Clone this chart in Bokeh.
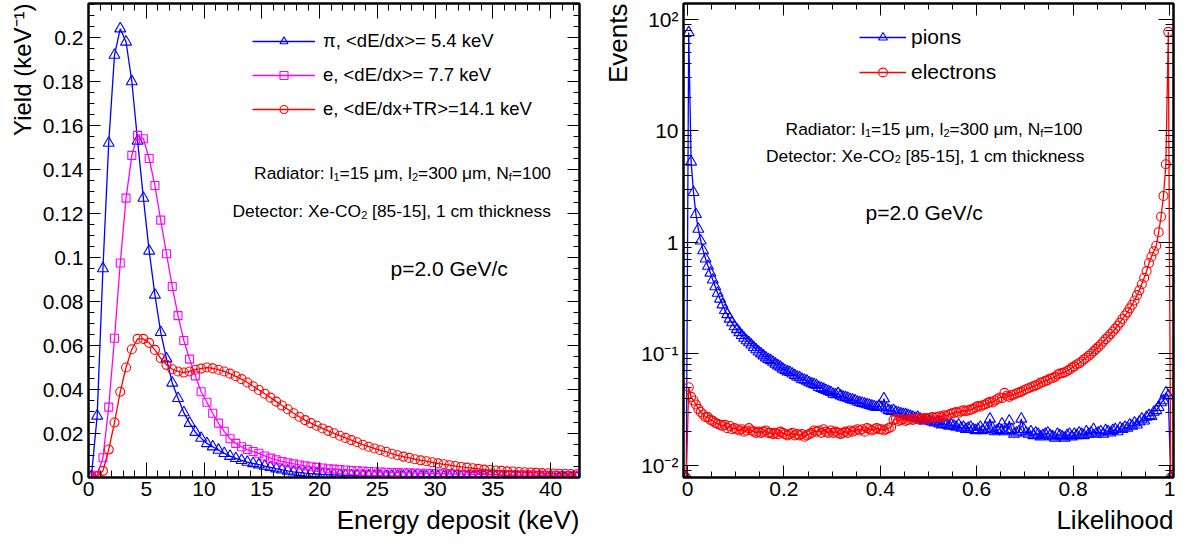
import numpy as np
from bokeh.plotting import figure
from bokeh.layouts import row
from bokeh.models import (LinearAxis, LogAxis, SingleIntervalTicker, FixedTicker,
                          CustomJSTickFormatter, Legend, LegendItem, Label, Range1d, Title)
from bokeh.embed import file_html
from bokeh.resources import INLINE

FONT = "Liberation Sans"
BLUE, MAGENTA, RED = "#0000ff", "#ff00ff", "#ff0000"

# ---------------- data: left panel (energy deposit spectra, 0.5 keV bins) ----------------
energy_bin_width = 0.5
pion_yield = [
    0.0005, 0.028, 0.095, 0.152, 0.192, 0.204, 0.198, 0.180, 0.153, 0.127,
    0.103, 0.083, 0.066, 0.054, 0.043, 0.036, 0.0295, 0.0247, 0.0206, 0.0179,
    0.0155, 0.014, 0.0125, 0.011, 0.0097, 0.0087, 0.0078, 0.007, 0.0064, 0.0058,
    0.0052, 0.0046, 0.004, 0.0035, 0.003, 0.0026, 0.0023, 0.002, 0.0018, 0.0016,
    0.0014, 0.0013, 0.0012, 0.0011, 0.001, 0.0009, 0.0009, 0.0008, 0.0008, 0.0007,
    0.0007, 0.0006, 0.0006, 0.0006, 0.0005, 0.0005, 0.0005, 0.0005, 0.0004, 0.0004,
    0.0004, 0.0004, 0.0004, 0.0003, 0.0003, 0.0003, 0.0003, 0.0003, 0.0003, 0.0003,
    0.0002, 0.0002, 0.0002, 0.0002, 0.0002, 0.0002, 0.0002, 0.0002, 0.0002, 0.0002,
    0.0002, 0.0001, 0.0001, 0.0001, 0.0001]
electron_dedx_yield = [
    0.0003, 0.001, 0.009, 0.032, 0.0633, 0.0975, 0.127, 0.1464, 0.1555, 0.154,
    0.145, 0.1327, 0.117, 0.1017, 0.0868, 0.0736, 0.0623, 0.0538, 0.0462, 0.039,
    0.0342, 0.0292, 0.0247, 0.021, 0.0176, 0.0155, 0.014, 0.0127, 0.0118, 0.011,
    0.0098, 0.0088, 0.008, 0.0073, 0.0067, 0.0062, 0.0057, 0.0053, 0.0049, 0.0046,
    0.0043, 0.004, 0.0038, 0.0036, 0.0034, 0.0032, 0.003, 0.0029, 0.0027, 0.0026,
    0.0025, 0.0024, 0.0023, 0.0022, 0.0021, 0.0021, 0.002, 0.0019, 0.0019, 0.0018,
    0.0017, 0.0017, 0.0016, 0.0016, 0.0015, 0.0015, 0.0014, 0.0014, 0.0014, 0.0013,
    0.0013, 0.0012, 0.0012, 0.0012, 0.0011, 0.0011, 0.0011, 0.001, 0.001, 0.001,
    0.0009, 0.0009, 0.0009, 0.0008, 0.0008]
electron_tr_yield = [
    0.0001, 0.0005, 0.003, 0.0127, 0.025, 0.039, 0.050, 0.0583, 0.063, 0.063,
    0.0612, 0.058, 0.0542, 0.0512, 0.0492, 0.0482, 0.0477, 0.0482, 0.049, 0.0495,
    0.05, 0.0496, 0.049, 0.0482, 0.0472, 0.046, 0.0447, 0.0432, 0.0415, 0.0398,
    0.0381, 0.0363, 0.0345, 0.0327, 0.031, 0.0292, 0.0276, 0.0261, 0.0247, 0.0235,
    0.0223, 0.0212, 0.0201, 0.019, 0.018, 0.017, 0.016, 0.0149, 0.014, 0.0132,
    0.0124, 0.0117, 0.0108, 0.0101, 0.0095, 0.0089, 0.0083, 0.0078, 0.0074, 0.0069,
    0.0064, 0.006, 0.0056, 0.0052, 0.0048, 0.0045, 0.0042, 0.0039, 0.0036, 0.0034,
    0.0032, 0.003, 0.0028, 0.0027, 0.0025, 0.0024, 0.0023, 0.0021, 0.002, 0.0019,
    0.0018, 0.0017, 0.0017, 0.0016, 0.0015]
energy_centers = [energy_bin_width * (i + 0.5) for i in range(len(pion_yield))]

legend_left = ["π, <dE/dx>= 5.4 keV", "e, <dE/dx>= 7.7 keV", "e, <dE/dx+TR>=14.1 keV"]

# ---------------- data: right panel (likelihood, 0.005 bins, incl. empty edge bins) ----------------
likelihood_bin_width = 0.005
pion_events = [0.0] + [
    76, 5.25, 2.8, 1.78, 1.31, 1.03, 0.84, 0.71, 0.61, 0.53,
    0.46, 0.40, 0.35, 0.31, 0.275, 0.245, 0.225, 0.205, 0.19, 0.175,
    0.165, 0.155, 0.146, 0.138, 0.131, 0.126, 0.12, 0.114, 0.109, 0.104,
    0.1, 0.096, 0.092, 0.089, 0.087, 0.084, 0.081, 0.078, 0.076, 0.073,
    0.071, 0.069, 0.068, 0.066, 0.064, 0.062, 0.061, 0.059, 0.058, 0.057,
    0.055, 0.054, 0.053, 0.052, 0.05, 0.049, 0.048, 0.047, 0.046, 0.045,
    0.0435, 0.043, 0.044, 0.042, 0.041, 0.0405, 0.04, 0.039, 0.0385, 0.038,
    0.037, 0.0365, 0.036, 0.0355, 0.035, 0.0345, 0.034, 0.0335, 0.033, 0.034,
    0.033, 0.0395, 0.032, 0.031, 0.0305, 0.031, 0.03, 0.0295, 0.029, 0.0285,
    0.0285, 0.028, 0.0275, 0.027, 0.0265, 0.027, 0.026, 0.0255, 0.025, 0.0255,
    0.025, 0.0245, 0.024, 0.0245, 0.0235, 0.023, 0.0235, 0.023, 0.0225, 0.023,
    0.0225, 0.022, 0.023, 0.0215, 0.022, 0.021, 0.0215, 0.022, 0.021, 0.0205,
    0.021, 0.022, 0.0205, 0.0215, 0.021, 0.026, 0.0215, 0.02, 0.0205, 0.021,
    0.0235, 0.02, 0.0205, 0.025, 0.021, 0.019, 0.0195, 0.02, 0.026, 0.021,
    0.0195, 0.019, 0.02, 0.0185, 0.0195, 0.019, 0.018, 0.0185, 0.019, 0.0195,
    0.0185, 0.018, 0.0175, 0.019, 0.0185, 0.018, 0.0175, 0.0185, 0.019, 0.018,
    0.019, 0.0185, 0.0195, 0.019, 0.0185, 0.02, 0.019, 0.0195, 0.021, 0.019,
    0.0195, 0.02, 0.019, 0.0205, 0.02, 0.0195, 0.0205, 0.021, 0.02, 0.0215,
    0.021, 0.022, 0.0215, 0.023, 0.0225, 0.024, 0.023, 0.0245, 0.026, 0.025,
    0.027, 0.028, 0.0275, 0.03, 0.031, 0.033, 0.0365, 0.038, 0.0445, 0.042] + [0.0]
electron_events = [0.0] + [
    0.05, 0.041, 0.038, 0.035, 0.032, 0.03, 0.0285, 0.027, 0.027, 0.0255,
    0.025, 0.024, 0.0235, 0.023, 0.0225, 0.023, 0.0215, 0.0225, 0.021, 0.0215,
    0.021, 0.0205, 0.021, 0.02, 0.0205, 0.0215, 0.0205, 0.02, 0.0195, 0.02,
    0.0195, 0.02, 0.0205, 0.0195, 0.0195, 0.019, 0.0195, 0.019, 0.02, 0.0195,
    0.019, 0.0185, 0.019, 0.0195, 0.0185, 0.019, 0.0185, 0.019, 0.018, 0.0185,
    0.019, 0.0195, 0.0205, 0.02, 0.0205, 0.0195, 0.021, 0.02, 0.0195, 0.0205,
    0.0195, 0.02, 0.0195, 0.019, 0.0195, 0.02, 0.0195, 0.0205, 0.02, 0.0205,
    0.021, 0.0205, 0.021, 0.02, 0.0215, 0.021, 0.0205, 0.021, 0.0215, 0.021,
    0.021, 0.0205, 0.021, 0.0215, 0.022, 0.0255, 0.026, 0.025, 0.0255, 0.026,
    0.025, 0.0255, 0.026, 0.0255, 0.026, 0.0265, 0.0255, 0.026, 0.0265, 0.026,
    0.0265, 0.027, 0.0265, 0.027, 0.0275, 0.027, 0.028, 0.0275, 0.0285, 0.029,
    0.0295, 0.03, 0.0295, 0.0305, 0.031, 0.0305, 0.031, 0.0315, 0.032, 0.033,
    0.034, 0.0335, 0.0345, 0.035, 0.036, 0.037, 0.0365, 0.038, 0.039, 0.0405,
    0.04, 0.0445, 0.042, 0.041, 0.0425, 0.043, 0.044, 0.045, 0.0455, 0.047,
    0.048, 0.049, 0.05, 0.051, 0.052, 0.053, 0.055, 0.0555, 0.057, 0.058,
    0.06, 0.0605, 0.062, 0.065, 0.0665, 0.067, 0.068, 0.07, 0.072, 0.075,
    0.077, 0.08, 0.082, 0.085, 0.089, 0.092, 0.096, 0.1, 0.105, 0.11,
    0.115, 0.121, 0.128, 0.135, 0.142, 0.15, 0.158, 0.168, 0.178, 0.19,
    0.205, 0.22, 0.235, 0.255, 0.275, 0.3, 0.335, 0.37, 0.42, 0.48,
    0.55, 0.65, 0.74, 0.83, 0.93, 1.23, 1.69, 2.6, 5.0, 77] + [0.0]
likelihood_centers = [likelihood_bin_width * (i - 0.5) for i in range(len(pion_events))]

legend_right = ["pions", "electrons"]

# ---------------- helpers ----------------
ARIAL = {' ': 278, ':': 278, '=': 584, ',': 278, '-': 333, '[': 278, ']': 278, '.': 278, '/': 278,
         'R': 722, 'N': 722, 'D': 722, 'X': 667, 'C': 722, 'O': 778, 'G': 778, 'V': 667,
         'a': 556, 'd': 556, 'i': 222, 't': 278, 'o': 556, 'r': 333, 'l': 222, 'm': 833,
         'f': 278, 'e': 556, 'c': 500, 'h': 556, 'k': 500, 'n': 556, 's': 500, 'p': 556,
         'μ': 576}


def text_w(s, fs):
    return sum(ARIAL.get(ch, 556) for ch in s) * fs / 1000.0


def rich_text(p, pieces, anchor_px, base_px, fs, to_data, align="right"):
    sub_scale = 0.63
    widths = [text_w(t, fs * (sub_scale if sub else 1)) for t, sub in pieces]
    x = anchor_px - sum(widths) if align == "right" else anchor_px
    for (t, sub), w in zip(pieces, widths):
        f = fs * (sub_scale if sub else 1)
        lead = len(t) - len(t.lstrip(" "))
        xd = x + lead * 278 * f / 1000.0
        yd = base_px + (0.22 * fs if sub else 0)
        dx, dy = to_data(xd, yd)
        p.add_layout(Label(x=dx, y=dy, text=t.strip(" "), text_font=FONT,
                           text_font_size=f"{f:.1f}px", text_align="left",
                           text_baseline="alphabetic", text_color="black"))
        x += w


num_fmt = CustomJSTickFormatter(code="const v = Math.round(tick*1e6)/1e6; return v.toString();")
blank_fmt = CustomJSTickFormatter(code="return '';")
log_fmt = CustomJSTickFormatter(code="""
const e = Math.round(Math.log10(tick));
const m = {"-2": "10⁻²", "-1": "10⁻¹", "0": "1", "1": "10", "2": "10²"};
return m[String(e)] || "";
""")


def style_axis(ax, major, minor, labels=True):
    ax.major_tick_in = major
    ax.major_tick_out = 0
    ax.minor_tick_in = minor
    ax.minor_tick_out = 0
    ax.axis_line_width = 2
    ax.axis_line_color = "black"
    ax.major_tick_line_color = "black"
    ax.minor_tick_line_color = "black"
    ax.major_tick_line_width = 1
    ax.minor_tick_line_width = 1
    if labels:
        ax.major_label_text_font = FONT
        ax.major_label_text_font_size = "21px"
        ax.major_label_text_color = "black"
    else:
        ax.formatter = blank_fmt
        ax.major_label_text_font_size = "0px"
        ax.major_label_standoff = 0


def axis_title(p, text, side, size, standoff):
    t = Title(text=text, align="right", text_font=FONT, text_font_size=size,
              text_font_style="normal", text_color="black", standoff=standoff,
              offset=0)
    p.add_layout(t, side)


def base_fig(**kw):
    p = figure(output_backend="svg", toolbar_location=None, min_border_top=3,
               min_border_bottom=0, background_fill_color="white",
               border_fill_color="white", **kw)
    p.xgrid.visible = False
    p.ygrid.visible = False
    p.outline_line_color = "black"
    p.outline_line_width = 2
    return p


FRAME_H = 474

# ---------------- left panel ----------------
p1 = base_fig(frame_width=491, frame_height=FRAME_H, x_range=Range1d(0, 42.5),
              y_range=Range1d(0, FRAME_H / 2200.0), min_border_left=88, min_border_right=11)
xt1 = SingleIntervalTicker(interval=5, num_minor_ticks=5)
yt1 = SingleIntervalTicker(interval=0.02, num_minor_ticks=4)
p1.xaxis.ticker = xt1
p1.yaxis.ticker = yt1
p1.xaxis.formatter = num_fmt
p1.yaxis.formatter = num_fmt
for ax in p1.xaxis:
    style_axis(ax, 15, 7)
    ax.major_label_standoff = 4
for ax in p1.yaxis:
    style_axis(ax, 12, 6)
    ax.major_label_standoff = 5
axis_title(p1, "Energy deposit (keV)", "below", "26px", 8)
axis_title(p1, "Yield (keV⁻¹)", "left", "24px", 7)
top1 = LinearAxis(ticker=xt1)
style_axis(top1, 15, 7, labels=False)
p1.add_layout(top1, "above")
right1 = LinearAxis(ticker=yt1)
style_axis(right1, 12, 6, labels=False)
p1.add_layout(right1, "right")

items1 = []
for yv, col, marker, size, lab in [(pion_yield, BLUE, "triangle", 11, legend_left[0]),
                                   (electron_dedx_yield, MAGENTA, "square", 8, legend_left[1]),
                                   (electron_tr_yield, RED, "circle", 9, legend_left[2])]:
    lr = p1.line(energy_centers, yv, line_color=col, line_width=1.3)
    sr = p1.scatter(energy_centers, yv, marker=marker, size=size, fill_color=None,
                    line_color=col, line_width=1.1)
    items1.append(LegendItem(label=lab, renderers=[lr, sr]))
leg1 = Legend(items=items1, location=(164, 357), orientation="vertical",
              glyph_width=63, glyph_height=20, label_height=20, spacing=12,
              padding=0, margin=0, label_standoff=8, border_line_color=None,
              background_fill_color=None, label_text_font=FONT,
              label_text_font_size="18.5px", label_text_color="black")
p1.add_layout(leg1)


def left_data(px, py):
    return ((px - 88.0) / 11.553, (477.0 - py) / 2200.0)


FS = 17.4
rad_pieces = [("Radiator: l", False), ("1", True), ("=15 μm, l", False), ("2", True),
              ("=300 μm, N", False), ("f", True), ("=100", False)]
det_pieces = [("Detector: Xe-CO", False), ("2", True), (" [85-15], 1 cm thickness", False)]
rich_text(p1, rad_pieces, 550.5, 172.7, FS, left_data)
rich_text(p1, det_pieces, 550.5, 210.7, FS, left_data)
lx, ly = left_data(390, 268.3)
p1.add_layout(Label(x=lx, y=ly, text="p=2.0 GeV/c", text_font=FONT, text_font_size="21px",
                    text_align="left", text_baseline="alphabetic", text_color="black"))

# ---------------- right panel ----------------
YMIN = 10 ** (-2.0 - (477.0 - 464.7) / 111.5)
YMAX = 10 ** (-2.0 + (464.7 - 3.0) / 111.5)
p2 = base_fig(frame_width=490, frame_height=FRAME_H, x_range=Range1d(-0.0083, 1.0083),
              y_range=Range1d(YMIN, YMAX), y_axis_type="log",
              min_border_left=93, min_border_right=8)
xt2 = SingleIntervalTicker(interval=0.2, num_minor_ticks=4)
log_minor = [m * 10.0 ** e for e in range(-3, 3) for m in range(2, 10)]
yt2 = FixedTicker(ticks=[0.01, 0.1, 1, 10, 100], minor_ticks=log_minor)
p2.xaxis.ticker = xt2
p2.yaxis.ticker = yt2
p2.xaxis.formatter = num_fmt
p2.yaxis.formatter = log_fmt
for ax in p2.xaxis:
    style_axis(ax, 12, 6)
    ax.major_label_standoff = 4
for ax in p2.yaxis:
    style_axis(ax, 15, 8)
    ax.major_label_standoff = 5
axis_title(p2, "Likelihood", "below", "26px", 8)
axis_title(p2, "Events", "left", "26px", 11)
top2 = LinearAxis(ticker=xt2)
style_axis(top2, 12, 6, labels=False)
p2.add_layout(top2, "above")
right2 = LogAxis(ticker=yt2)
style_axis(right2, 15, 8, labels=False)
p2.add_layout(right2, "right")

items2 = []
for yv, col, marker, size, lab in [(pion_events, BLUE, "triangle", 11, legend_right[0]),
                                   (electron_events, RED, "circle", 9, legend_right[1])]:
    yplot = np.maximum(np.array(yv, dtype=float), YMIN)
    lr = p2.line(likelihood_centers, yplot, line_color=col, line_width=1.3)
    sr = p2.scatter(likelihood_centers, yplot, marker=marker, size=size, fill_color=None,
                    line_color=col, line_width=1.1)
    items2.append(LegendItem(label=lab, renderers=[lr, sr]))
leg2 = Legend(items=items2, location=(176, 393), orientation="vertical",
              glyph_width=47, glyph_height=22, label_height=22, spacing=11,
              padding=0, margin=0, label_standoff=5, border_line_color=None,
              background_fill_color=None, label_text_font=FONT,
              label_text_font_size="21px", label_text_color="black")
p2.add_layout(leg2)


def right_data(px, py):
    return ((px - 687.0) / 482.0, 10 ** (-2.0 - (py - 464.7) / 111.5))


rich_text(p2, rad_pieces, 1082, 128.3, FS, right_data)
rich_text(p2, det_pieces, 1084, 155.0, FS, right_data)
rx, ry = right_data(865, 211.7)
p2.add_layout(Label(x=rx, y=ry, text="p=2.0 GeV/c", text_font=FONT, text_font_size="21px",
                    text_align="left", text_baseline="alphabetic", text_color="black"))

layout = row(p1, p2)
open("out.html", "w").write(file_html(layout, INLINE))
